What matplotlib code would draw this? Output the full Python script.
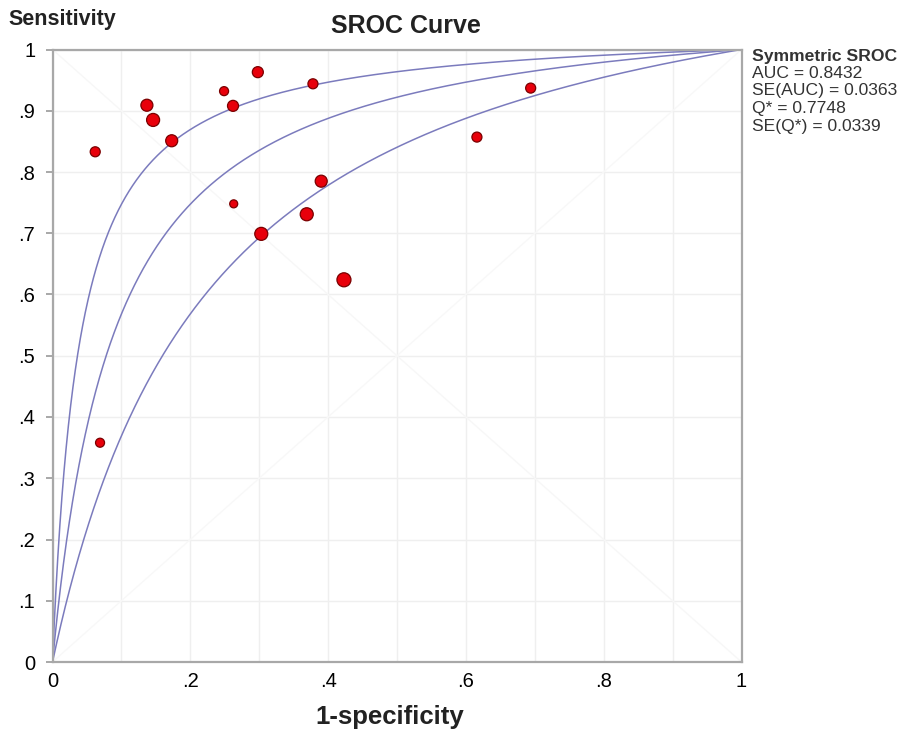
import numpy as np
import matplotlib
matplotlib.use("Agg")
import matplotlib.pyplot as plt

plt.rcParams['font.family'] = ['Liberation Sans', 'DejaVu Sans']

# study points (1-specificity, sensitivity, relative marker radius)
fpr = [0.062, 0.137, 0.146, 0.173, 0.249, 0.262, 0.298, 0.378,
       0.263, 0.303, 0.369, 0.390, 0.423, 0.069, 0.616, 0.694]
sens = [0.833, 0.909, 0.885, 0.851, 0.932, 0.908, 0.963, 0.944,
        0.748, 0.699, 0.731, 0.785, 0.624, 0.358, 0.857, 0.937]
radius = [5.0, 6.0, 6.5, 6.0, 4.5, 5.5, 5.5, 5.0,
          4.0, 6.5, 6.5, 6.0, 7.0, 4.5, 5.0, 5.0]

q_star = 0.7748
ln_dor_band = 0.81  # half-width of the band on the ln(DOR) scale
legend_title = "Symmetric SROC"
legend_lines = ["AUC = 0.8432", "SE(AUC) = 0.0363", "Q* = 0.7748", "SE(Q*) = 0.0339"]

W, H = 915, 732
fig = plt.figure(figsize=(W/100, H/100), dpi=100)
x0, x1, y0, y1 = 52.5, 741.5, 662, 49.5
ax = fig.add_axes([x0/W, (H - y0)/H, (x1 - x0)/W, (y0 - y1)/H])
ax.set_xlim(0, 1)
ax.set_ylim(0, 1)

ax.set_xticks(np.arange(0, 1.01, 0.1), minor=True)
ax.set_yticks(np.arange(0, 1.01, 0.1))
ax.set_xticks(np.arange(0, 1.01, 0.2))
ax.set_xticklabels(['0', '.2', '.4', '.6', '.8', '1'])
ax.set_yticklabels(['0', '.1', '.2', '.3', '.4', '.5', '.6', '.7', '.8', '.9', '1'])
ax.grid(True, which='both', color='#efefef', linewidth=1.0)
ax.set_axisbelow(True)
ax.tick_params(axis='y', which='both', labelsize=14.5, color='#999999', length=5, width=1.2, pad=7.5)
ax.tick_params(axis='x', which='both', labelsize=14.5, length=0, pad=7)
for s in ax.spines.values():
    s.set_color('#a8a8a8')
    s.set_linewidth(1.6)

# very faint diagonals
ax.plot([0, 1], [1, 0], color='#f7f7f7', linewidth=1.0, zorder=1)
ax.plot([0, 1], [0, 1], color='#f8f8f8', linewidth=1.0, zorder=1)

x = np.linspace(1e-6, 1 - 1e-9, 3000)
ln_dor_c = 2 * np.log(q_star / (1 - q_star))
for lnd in (ln_dor_c - ln_dor_band, ln_dor_c, ln_dor_c + ln_dor_band):
    odds = np.exp(lnd) * x / (1 - x)
    y = odds / (1 + odds)
    ax.plot(np.concatenate([[0], x, [1]]), np.concatenate([[0], y, [1]]),
            color='#7b7bbd', linewidth=1.1, zorder=2)

s = [(2 * r) ** 2 * 0.52 for r in radius]
ax.scatter(fpr, sens, s=s, color='#e8000b', edgecolors='#7a0000', linewidths=0.9, zorder=3, clip_on=False)

fig.text(8/W, 1 - 19/H, 'Sensitivity', fontsize=15.5, fontweight='bold', va='center', ha='left', color='#222222')
fig.text(406/W, 1 - 26/H, 'SROC Curve', fontsize=18, fontweight='bold', va='center', ha='center', color='#222222')
fig.text(390/W, 1 - 717/H, '1-specificity', fontsize=18.5, fontweight='bold', va='center', ha='center', color='#222222')

fig.text(752/W, 1 - 56/H, legend_title, fontsize=12.6, fontweight='bold', va='center', ha='left', color='#333333')
for i, t in enumerate(legend_lines):
    fig.text(752/W, 1 - (73.5 + i * 17.5)/H, t, fontsize=12.6, va='center', ha='left', color='#333333')

fig.savefig('out.png', dpi=100)
